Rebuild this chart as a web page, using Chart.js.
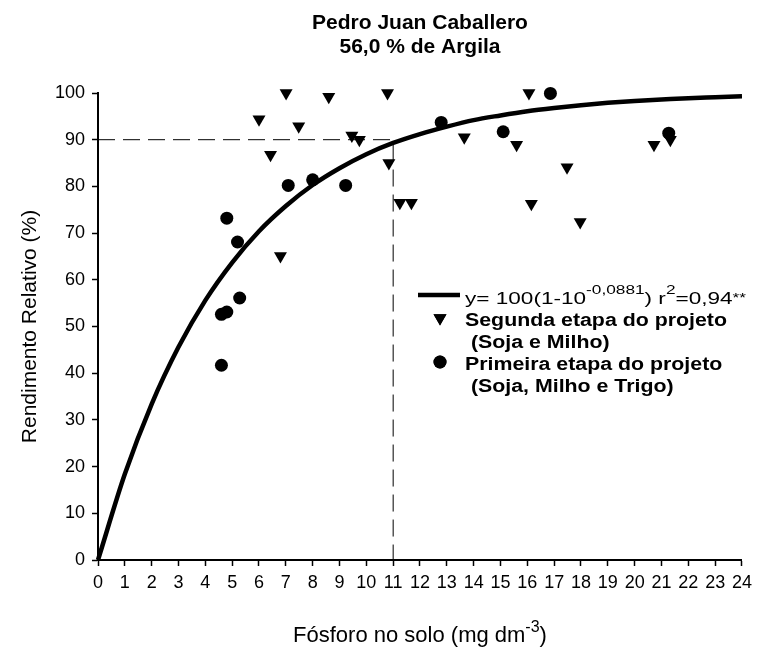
<!DOCTYPE html>
<html>
<head>
<meta charset="utf-8">
<script src="https://cdn.jsdelivr.net/npm/chart.js@4/dist/chart.umd.min.js"></script>
<style>
  html, body { margin: 0; padding: 0; background: #fff; }
  #wrap { width: 758px; height: 648px; }
</style>
</head>
<body>
<div id="wrap"><canvas id="c" width="758" height="648"></canvas></div>
<script>
// ---- data ----
const curveX = [0,1,2,3,4,5,6,7,8,9,10,11,12,13,14,15,16,17,18,19,20,21,22,23,24];
const curveY = [0,18.4,33.4,45.6,55.6,63.7,70.4,75.8,80.3,83.9,86.9,89.3,91.2,92.8,94.2,95.2,96.1,96.8,97.4,97.9,98.3,98.6,98.9,99.1,99.3];

const segundaX = [6.0,6.43,6.8,7.01,7.48,8.6,9.46,9.74,10.79,10.84,11.25,11.68,13.65,15.6,16.06,16.15,17.48,17.97,20.72,21.33];
const segundaY = [94.4,86.8,65.1,100,92.9,99.2,90.9,90.0,100,85.0,76.5,76.5,90.5,88.9,100,76.3,84.1,72.4,88.9,90.0];

const primeiraX = [4.6,4.6,4.8,4.8,5.2,5.28,7.09,8.0,9.23,12.79,15.1,16.86,21.27];
const primeiraY = [41.7,52.6,53.1,73.2,68.1,56.1,80.2,81.4,80.2,93.7,91.7,99.9,91.4];

const refLineX = [0, 11, 11];
const refLineY = [90, 90, 0];

const xTicks = {min: 0, max: 24, step: 1};
const yTicks = {min: 0, max: 100, step: 10};

const titleLines = ["Pedro Juan Caballero", "56,0 % de Argila"];
const yTitle = "Rendimento Relativo (%)";
const legendLines = ["Segunda etapa do projeto", " (Soja e Milho)", "Primeira etapa do projeto", " (Soja, Milho e Trigo)"];

const toPts = (xs, ys) => xs.map((x, i) => ({x: x, y: ys[i]}));

const FONT = "'Liberation Sans', Arial, Helvetica, sans-serif";

const textPlugin = {
  id: 'texts',
  afterDraw(chart) {
    const ctx = chart.ctx;
    const ca = chart.chartArea;
    const cx = (ca.left + ca.right) / 2;
    ctx.save();
    ctx.fillStyle = '#000';
    // title
    ctx.font = 'bold 21px ' + FONT;
    ctx.textAlign = 'center';
    ctx.textBaseline = 'alphabetic';
    ctx.fillText(titleLines[0], cx, 29);
    ctx.fillText(titleLines[1], cx, 53);

    // x axis title with superscript
    const main = 'Fósforo no solo (mg dm';
    const sup = '-3';
    const close = ')';
    ctx.font = '22px ' + FONT;
    const wMain = ctx.measureText(main).width;
    const wClose = ctx.measureText(close).width;
    ctx.font = '16px ' + FONT;
    const wSup = ctx.measureText(sup).width;
    const total = wMain + wSup + wClose;
    let x0 = cx - total / 2;
    const by = 642;
    ctx.textAlign = 'left';
    ctx.font = '22px ' + FONT;
    ctx.fillText(main, x0, by);
    ctx.font = '16px ' + FONT;
    ctx.fillText(sup, x0 + wMain, by - 10);
    ctx.font = '22px ' + FONT;
    ctx.fillText(close, x0 + wMain + wSup, by);

    // y axis title
    ctx.save();
    ctx.translate(30, (ca.top + ca.bottom) / 2);
    ctx.rotate(-Math.PI / 2);
    ctx.textAlign = 'center';
    ctx.textBaseline = 'middle';
    ctx.font = '21px ' + FONT;
    ctx.fillText(yTitle, 0, 0);
    ctx.restore();

    // legend
    const curveDs = chart.data.datasets[0];
    ctx.strokeStyle = curveDs.borderColor;
    ctx.lineWidth = curveDs.borderWidth;
    ctx.beginPath();
    ctx.moveTo(418, 295);
    ctx.lineTo(460, 295);
    ctx.stroke();

    // equation text, stretched horizontally like the reference
    const segs = [
      ['y= 100(1-10', 17, 0],
      ['-0,0881', 13, -10],
      [') r', 17, 0],
      ['2', 13, -10],
      ['=0,94', 17, 0],
      ['**', 13, -2]
    ];
    let wEq = 0;
    segs.forEach(s => { ctx.font = s[1] + 'px ' + FONT; wEq += ctx.measureText(s[0]).width; });
    const eqScale = 281 / wEq;
    ctx.save();
    ctx.translate(465, 304);
    ctx.scale(eqScale, 1);
    ctx.textAlign = 'left';
    ctx.textBaseline = 'alphabetic';
    let tx = 0;
    segs.forEach(s => {
      ctx.font = s[1] + 'px ' + FONT;
      ctx.fillText(s[0], tx, s[2]);
      tx += ctx.measureText(s[0]).width;
    });
    ctx.restore();

    // markers
    Chart.helpers.drawPoint(ctx, {pointStyle: 'triangle', radius: 7.5, rotation: 180}, 440, 318);
    ctx.fill();
    Chart.helpers.drawPoint(ctx, {pointStyle: 'circle', radius: 6.5, rotation: 0}, 440, 362);
    ctx.fill();

    ctx.font = 'bold 18px ' + FONT;
    const wSeg = ctx.measureText(legendLines[0]).width;
    const lScale = 262 / wSeg;
    const baselines = [326, 348, 370, 392];
    legendLines.forEach((t, i) => {
      ctx.save();
      ctx.translate(465, baselines[i]);
      ctx.scale(lScale, 1);
      ctx.fillText(t, 0, 0);
      ctx.restore();
    });
    ctx.restore();
  }
};

new Chart(document.getElementById('c'), {
  type: 'scatter',
  data: {
    datasets: [
      {
        type: 'line',
        label: 'ajuste',
        data: toPts(curveX, curveY),
        borderColor: '#000',
        borderWidth: 4.5,
        pointRadius: 0,
        cubicInterpolationMode: 'monotone',
        fill: false,
        clip: false
      },
      {
        type: 'line',
        label: 'ref',
        data: toPts(refLineX, refLineY),
        borderColor: '#000',
        borderWidth: 1,
        borderDash: [17, 8],
        pointRadius: 0,
        tension: 0,
        fill: false
      },
      {
        label: 'Segunda etapa do projeto (Soja e Milho)',
        data: toPts(segundaX, segundaY),
        pointStyle: 'triangle',
        rotation: 180,
        pointRadius: 7.5,
        backgroundColor: '#000',
        borderColor: '#000',
        borderWidth: 0,
        clip: false
      },
      {
        label: 'Primeira etapa do projeto (Soja, Milho e Trigo)',
        data: toPts(primeiraX, primeiraY),
        pointStyle: 'circle',
        pointRadius: 6.5,
        backgroundColor: '#000',
        borderColor: '#000',
        borderWidth: 0,
        clip: false
      }
    ]
  },
  options: {
    responsive: false,
    animation: false,
    events: [],
    layout: { padding: { top: 93, right: 12, left: 0, bottom: 0 } },
    plugins: { legend: { display: false }, title: { display: false }, tooltip: { enabled: false } },
    scales: {
      x: {
        type: 'linear',
        min: xTicks.min, max: xTicks.max,
        afterFit: s => { s.height = 88; },
        ticks: { stepSize: xTicks.step, autoSkip: false, maxRotation: 0, color: '#000', padding: 6,
                 font: { family: FONT, size: 18 } },
        grid: { display: true, drawOnChartArea: false, drawTicks: true, tickLength: 6, tickWidth: 1.5, tickColor: '#000' },
        border: { display: true, color: '#000', width: 2 }
      },
      y: {
        type: 'linear',
        min: yTicks.min, max: yTicks.max,
        afterFit: s => { s.width = 98; },
        ticks: { stepSize: yTicks.step, color: '#000', padding: 7,
                 font: { family: FONT, size: 18 } },
        grid: { display: true, drawOnChartArea: false, drawTicks: true, tickLength: 6, tickWidth: 1.5, tickColor: '#000' },
        border: { display: true, color: '#000', width: 2 }
      }
    }
  },
  plugins: [textPlugin]
});
</script>
</body>
</html>
